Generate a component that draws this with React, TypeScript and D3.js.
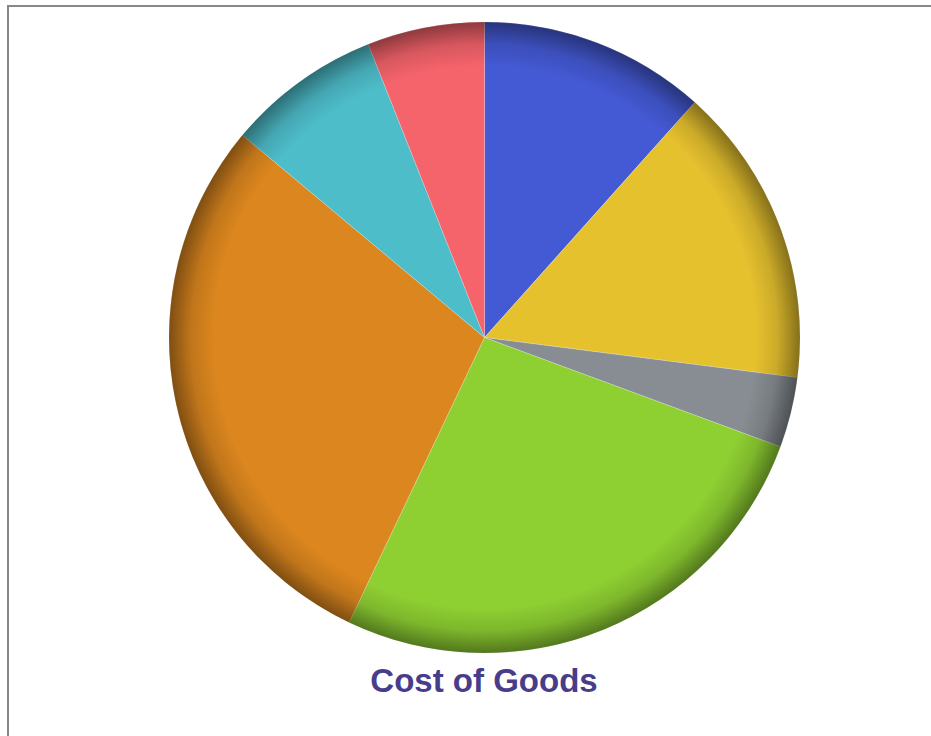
import React from "react";
import * as d3 from "d3";

const categories = ["Category 1", "Category 2", "Category 3", "Category 4", "Category 5", "Category 6", "Category 7"];
const values = [11.6, 15.4, 3.6, 26.4, 29.0, 7.9, 6.0];
const colors = ["#4459D4", "#E6C12E", "#878D92", "#8ECF32", "#DB861E", "#4DBDCA", "#F5636B"];
const title = "Cost of Goods";

export default function App() {
  const W = 931, H = 736;
  const cx = 484.5, cy = 337.5, r = 315.5;
  const data = categories.map((c, i) => ({ c, v: values[i], color: colors[i] }));
  const pie = d3.pie<any>().value((d) => d.v).sort(null).startAngle(0).endAngle(2 * Math.PI);
  const arcs = pie(data);
  const arc = d3.arc<any>().innerRadius(0).outerRadius(r);
  return (
    <svg width={W} height={H} style={{ position: "absolute", left: 0, top: 0, background: "#fff" }}>
      <defs>
        <radialGradient id="edge" cx={cx} cy={cy} r={r} gradientUnits="userSpaceOnUse">
          <stop offset="0" stopColor="#000" stopOpacity={0} />
          <stop offset="0.86" stopColor="#000" stopOpacity={0} />
          <stop offset="0.93" stopColor="#000" stopOpacity={0.12} />
          <stop offset="1" stopColor="#000" stopOpacity={0.42} />
        </radialGradient>
      </defs>
      <rect x={8} y={6} width={W + 20} height={H + 20} fill="none" stroke="#888" strokeWidth={2} />
      <g transform={`translate(${cx},${cy})`}>
        {arcs.map((a, i) => (
          <path key={i} d={arc(a) as string} fill={a.data.color} stroke="#fff" strokeOpacity={0.35} strokeWidth={0.6} />
        ))}
      </g>
      <circle cx={cx} cy={cy} r={r} fill="url(#edge)" />
      <text x={484} y={692} textAnchor="middle" fontFamily="'Liberation Sans', Arial, sans-serif" fontWeight="bold" fontSize={33} fill="#483D8B">
        {title}
      </text>
    </svg>
  );
}
